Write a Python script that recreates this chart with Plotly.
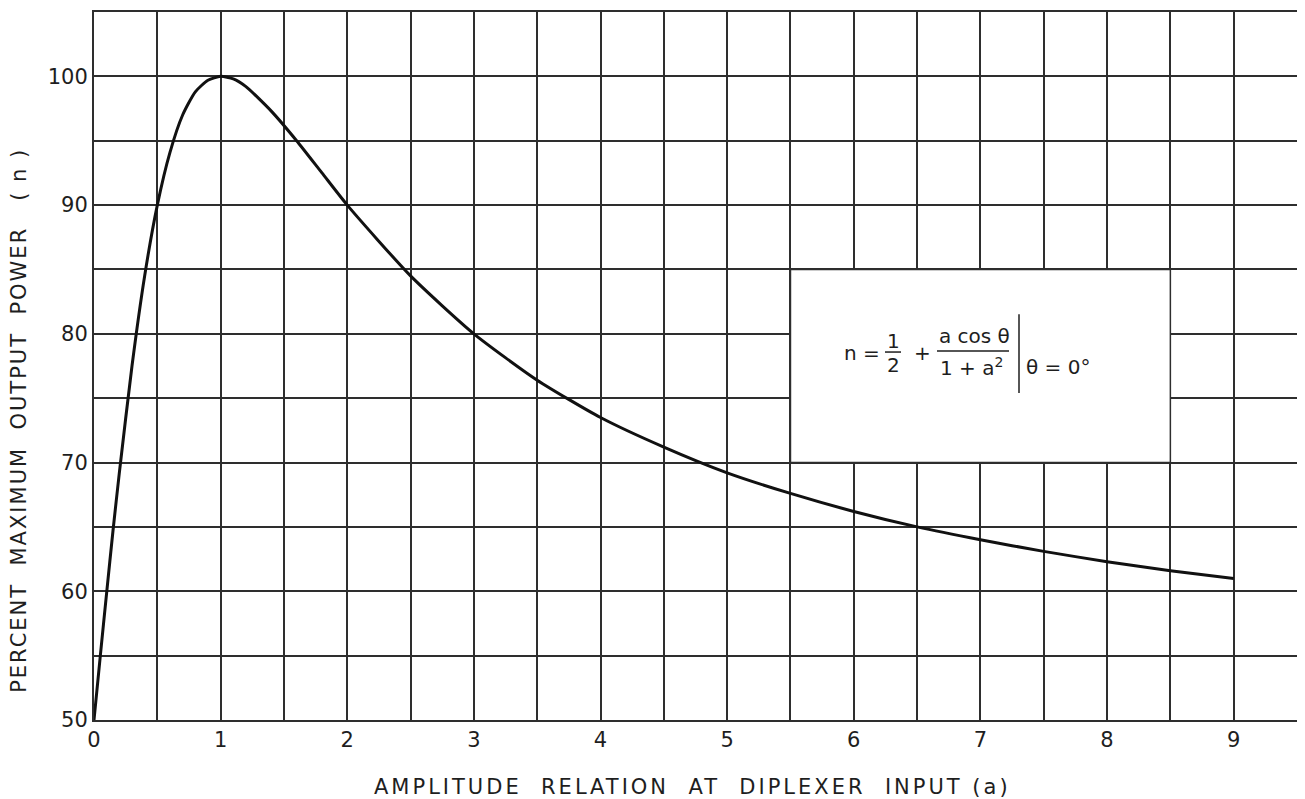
import plotly.graph_objects as go

# Values
amplitude = [0, 0.05, 0.1, 0.15, 0.2, 0.3, 0.4, 0.5, 0.6, 0.7, 0.8, 0.9, 1.0, 1.1, 1.2, 1.4, 1.6,
             1.8, 2.0, 2.5, 3.0, 3.5, 4.0, 4.5, 5.0, 5.5, 6.0, 6.5, 7.0, 7.5, 8.0, 8.5, 9.0]
percent_power = [50, 55.0, 59.9, 64.7, 69.2, 77.5, 84.5, 90.0, 94.1, 97.0, 98.8, 99.7, 100.0, 99.8,
                 99.2, 97.3, 95.0, 92.5, 90.0, 84.5, 80.0, 76.4, 73.5, 71.2, 69.2, 67.6, 66.2,
                 65.0, 64.0, 63.1, 62.3, 61.6, 61.0]

x_ticks = [0, 1, 2, 3, 4, 5, 6, 7, 8, 9]
x_labels = ["0", "1", "2", "3", "4", "5", "6", "7", "8", "9"]
y_ticks = [50, 60, 70, 80, 90, 100]
y_labels = ["50", "60", "70", "80", "90", "100"]

FONT = "DejaVu Sans"
INK = "#1e1e1e"
GRID = "#2e2e2e"

# the page body has an 8px margin; window coordinates of the plot area
OFF = 8
L, R, T, B = 94, 1297, 10, 720
W, H = 1305 - OFF, 799 - OFF

fig = go.Figure()
fig.add_trace(go.Scatter(x=amplitude, y=percent_power, mode="lines",
                         line=dict(color="#111111", width=3, shape="spline", smoothing=0.6),
                         hoverinfo="x+y", showlegend=False))

def dx(px):
    return (px - L) / (R - L) * 9.5
def dy(py):
    return 105 - (py - T) / (B - T) * 55

ann = []
def txt(px, py, s, size=20, xanchor="center"):
    ann.append(dict(x=dx(px), y=dy(py), xref="x", yref="y", text=s, showarrow=False,
                    xanchor=xanchor, yanchor="middle", font=dict(family=FONT, size=size, color=INK)))

txt(862, 352, "n =")
txt(893, 340, "1")
txt(893, 364, "2")
txt(922, 352, "+")
txt(974, 335, "a cos θ")
txt(971, 366, "1 + a<sup>2</sup>")
txt(1024, 366, "θ = 0°", xanchor="left")

shapes = [
    dict(type="rect", xref="x", yref="y", x0=5.5, x1=8.5, y0=70, y1=85,
         fillcolor="white", line=dict(color=GRID, width=1.5), layer="above"),
    dict(type="line", xref="x", yref="y", x0=dx(885), x1=dx(901), y0=dy(351), y1=dy(351),
         line=dict(color=INK, width=1.5), layer="above"),
    dict(type="line", xref="x", yref="y", x0=dx(937), x1=dx(1009), y0=dy(350), y1=dy(350),
         line=dict(color=INK, width=1.5), layer="above"),
    dict(type="line", xref="x", yref="y", x0=dx(1019), x1=dx(1019), y0=dy(313), y1=dy(392),
         line=dict(color=INK, width=1.5), layer="above"),
]

ann.append(dict(x=(692 - L) / (R - L), y=(B - 787) / (B - T), xref="paper", yref="paper",
                text='<span style="letter-spacing:3px">AMPLITUDE  RELATION  AT  DIPLEXER  INPUT (a)</span>',
                showarrow=False, xanchor="center", yanchor="middle",
                font=dict(family=FONT, size=21, color=INK)))
ann.append(dict(x=(19 - L) / (R - L), y=(B - 420) / (B - T), xref="paper", yref="paper",
                text='<span style="letter-spacing:2px">PERCENT  MAXIMUM  OUTPUT  POWER   ( n )</span>',
                showarrow=False, textangle=-90, xanchor="center", yanchor="middle",
                font=dict(family=FONT, size=21, color=INK)))

axis_common = dict(showgrid=True, gridcolor=GRID, gridwidth=1.5, zeroline=False,
                   showline=True, linecolor=GRID, linewidth=2, mirror=True, ticks="",
                   tickmode="array", tickfont=dict(family=FONT, size=21, color=INK))

fig.update_layout(
    width=W, height=H,
    margin=dict(l=L - OFF, r=W + OFF - R, t=T - OFF, b=H + OFF - B),
    paper_bgcolor="white", plot_bgcolor="white",
    font=dict(family=FONT, size=20, color=INK),
    annotations=ann, shapes=shapes, showlegend=False,
    xaxis=dict(range=[0, 9.5], tickvals=x_ticks, ticktext=x_labels,
               minor=dict(dtick=0.5, tick0=0, showgrid=True, gridcolor=GRID, gridwidth=1.5, ticks=""),
               **axis_common),
    yaxis=dict(range=[50, 105], tickvals=y_ticks, ticktext=y_labels,
               minor=dict(dtick=5, tick0=50, showgrid=True, gridcolor=GRID, gridwidth=1.5, ticks=""),
               **axis_common),
)

fig.write_html("out.html")
